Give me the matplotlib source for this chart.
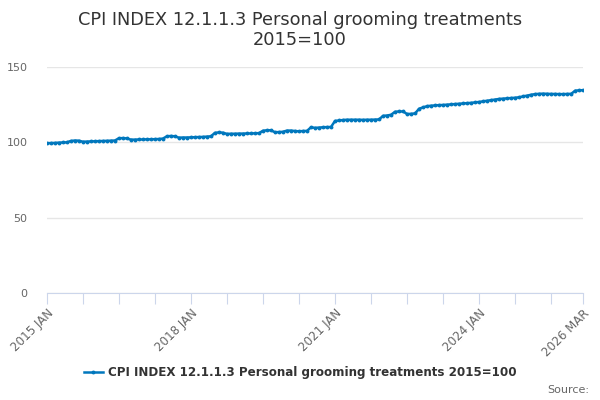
import matplotlib
matplotlib.use("Agg")
import matplotlib.pyplot as plt
from matplotlib.lines import Line2D

plt.rcParams['font.family'] = ['DejaVu Sans']

title = "CPI INDEX 12.1.1.3 Personal grooming treatments\n2015=100"
series_name = "CPI INDEX 12.1.1.3 Personal grooming treatments 2015=100"
month_names = ["JAN", "FEB", "MAR", "APR", "MAY", "JUN", "JUL", "AUG", "SEP", "OCT", "NOV", "DEC"]
start_year = 2015

values = [
    # 2015
    99.4, 99.5, 99.6, 99.8, 99.9, 100.0, 100.9, 101.2, 101.1, 100.4, 100.5, 100.6,
    # 2016
    100.7, 100.8, 100.9, 101.0, 101.1, 101.2, 102.7, 102.8, 102.6, 101.8, 101.8, 101.9,
    # 2017
    101.9, 102.0, 102.0, 102.1, 102.2, 102.5, 104.0, 104.2, 104.0, 103.1, 103.2, 103.2,
    # 2018
    103.3, 103.4, 103.5, 103.6, 103.8, 104.0, 106.3, 106.6, 106.4, 105.6, 105.7, 105.7,
    # 2019
    105.8, 105.8, 105.9, 105.9, 106.0, 106.1, 107.7, 108.0, 108.0, 106.7, 106.8, 107.0,
    # 2020
    107.8, 107.8, 107.5, 107.3, 107.5, 107.6, 110.0, 109.6, 109.8, 110.0, 110.1, 110.2,
    # 2021
    114.2, 114.5, 114.8, 115.0, 115.0, 115.0, 115.0, 114.9, 115.0, 115.0, 115.1, 115.2,
    # 2022
    117.6, 117.8, 118.3, 120.3, 120.5, 120.5, 118.8, 118.9, 119.2, 122.3, 123.2, 124.0,
    # 2023
    124.3, 124.5, 124.7, 124.8, 125.0, 125.2, 125.4, 125.6, 125.8, 126.0, 126.2, 126.5,
    # 2024
    126.8, 127.2, 127.6, 128.0, 128.4, 128.8, 129.0, 129.2, 129.4, 129.6, 129.9, 130.5,
    # 2025
    131.0, 131.6, 132.0, 132.2, 132.3, 132.2, 132.1, 132.1, 132.0, 132.0, 132.1, 132.2,
    # 2026
    134.3, 134.5, 134.6,
]

labels = [f"{start_year + i // 12} {month_names[i % 12]}" for i in range(len(values))]
x = list(range(len(values)))

fig = plt.figure(figsize=(6, 4), dpi=100)
ax = fig.add_axes([0.078, 0.2675, 0.894, 0.565])

color = "#0077bd"
ax.plot(x, values, color=color, lw=1.8, marker="o", ms=2.8, mew=0, zorder=3)

ax.set_xlim(0, len(values) - 1)
ax.set_ylim(0, 150)
ax.set_yticks([0, 50, 100, 150])
ax.yaxis.grid(True, color="#e6e6e6", lw=1)
ax.set_axisbelow(True)
ax.tick_params(axis="y", length=0, labelsize=8, labelcolor="#666666", pad=14)

tick_pos = list(range(0, len(values) - 1, 9)) + [len(values) - 1]
label_pos = {0, 36, 72, 108, len(values) - 1}
ax.set_xticks(tick_pos)
ax.set_xticklabels([labels[p] if p in label_pos else "" for p in tick_pos],
                   rotation=45, ha="right", rotation_mode="anchor")
ax.tick_params(axis="x", length=8, color="#ccd6eb", labelsize=8.6, labelcolor="#666666", pad=2)

for s in ["top", "right", "left"]:
    ax.spines[s].set_visible(False)
ax.spines["bottom"].set_color("#ccd6eb")

fig.text(0.5, 0.972, title, ha="center", va="top", fontsize=12.8, color="#333333", linespacing=1.1)

handle = Line2D([], [], color=color, lw=1.8, marker="o", ms=2.8, mew=0)
fig.legend([handle], [series_name], loc="center", bbox_to_anchor=(0.5, 0.068), frameon=False,
           prop={"size": 8.6, "weight": "bold"}, labelcolor="#333333", handlelength=1.6, handletextpad=0.4)

fig.text(0.982, 0.025, "Source:", ha="right", va="center", fontsize=8, color="#666666")

fig.savefig("out.png", dpi=100)
